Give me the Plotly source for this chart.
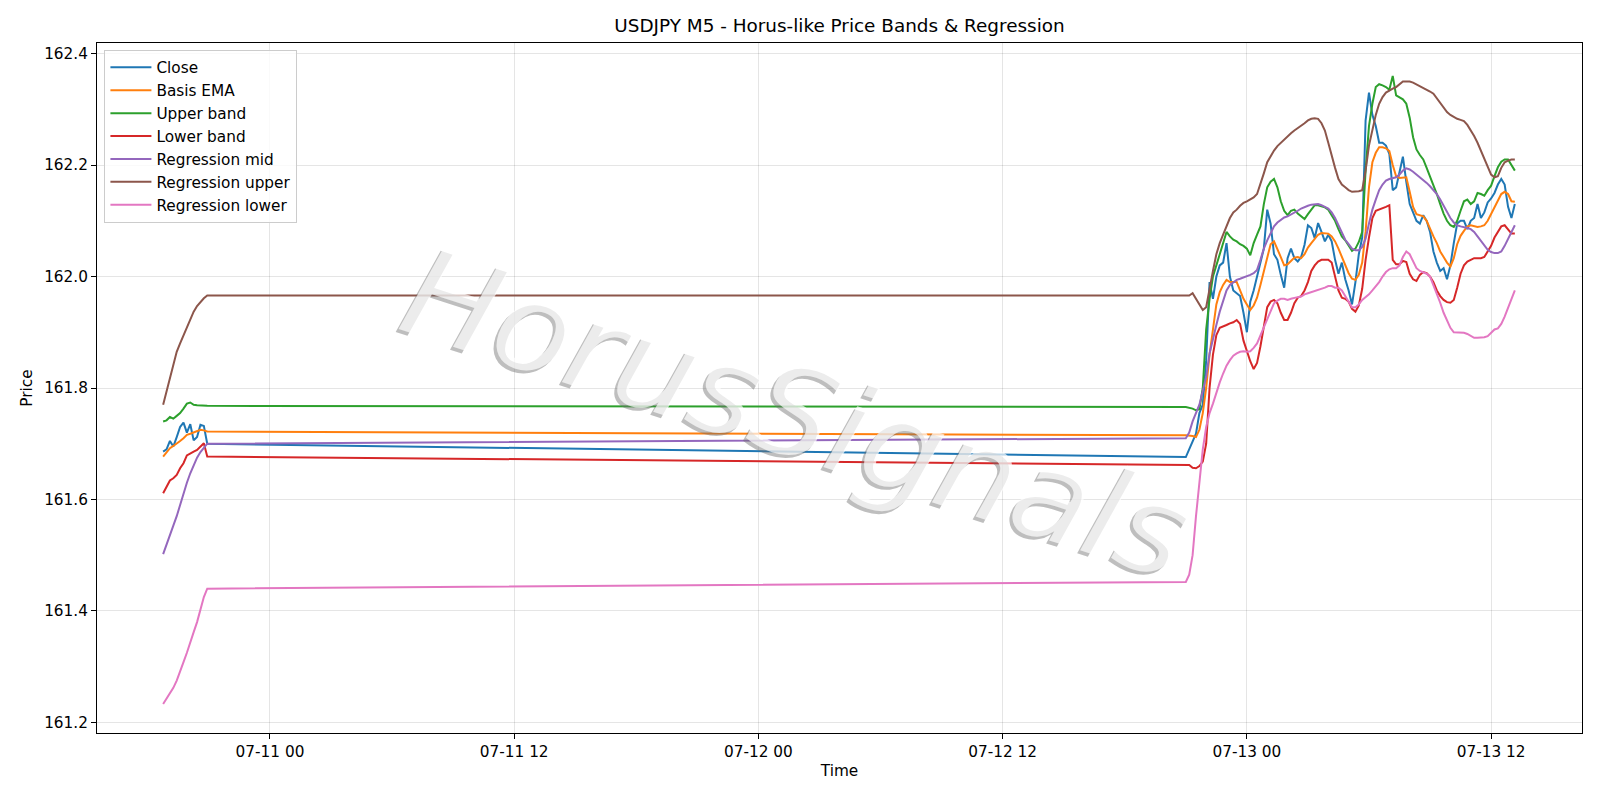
import pandas as pd
import plotly.graph_objects as go

# ---------------- data ----------------
# segment 1: 2025-07-10 18:45 .. 20:55 (10-min samples); segment 2: 2025-07-12 21:00 .. 2025-07-13 13:10
seg1_times = pd.date_range("2025-07-10 18:45", periods=14, freq="10min")
seg2_times = pd.date_range("2025-07-12 21:00", periods=98, freq="10min")
times = list(seg1_times) + list(seg2_times)

close_s1 = [161.686, 161.690, 161.705, 161.695, 161.712, 161.730, 161.738, 161.720, 161.735, 161.706, 161.712, 161.734, 161.732, 161.700]
close_s2 = [
    161.676, 161.690, 161.705, 161.718, 161.755, 161.770,
    161.850, 161.990, 161.960, 162.000, 162.020, 162.025,
    162.060, 162.000, 161.975, 161.970, 161.965, 161.935,
    161.900, 161.955, 161.975, 162.000, 162.025, 162.050,
    162.120, 162.095, 162.040, 162.030, 162.003, 161.980,
    162.033, 162.050, 162.033, 162.027, 162.035, 162.057,
    162.092, 162.087, 162.069, 162.096, 162.080, 162.063,
    162.075, 162.063, 162.030, 162.005, 162.025, 161.995,
    161.975, 161.950, 161.990, 162.040, 162.070, 162.280,
    162.330, 162.290, 162.270, 162.240, 162.240, 162.235,
    162.220, 162.155, 162.160, 162.190, 162.215, 162.170,
    162.130, 162.115, 162.100, 162.095, 162.110, 162.100,
    162.080, 162.045, 162.025, 162.010, 162.015, 161.995,
    162.020, 162.060, 162.095, 162.100, 162.100, 162.085,
    162.100, 162.105, 162.130, 162.105, 162.115, 162.133,
    162.140, 162.150, 162.165, 162.175, 162.165, 162.125,
    162.105, 162.130]

basis_s1 = [161.677, 161.685, 161.692, 161.696, 161.700, 161.705, 161.710, 161.716, 161.718, 161.720, 161.722, 161.725, 161.724, 161.722]
basis_s2 = [
    161.715, 161.715, 161.714, 161.712, 161.725, 161.755,
    161.800, 161.860, 161.910, 161.950, 161.972, 161.985,
    161.994, 161.990, 161.990, 161.990, 161.975, 161.960,
    161.950, 161.940, 161.948, 161.962, 161.985, 162.010,
    162.035, 162.058, 162.063, 162.050, 162.035, 162.020,
    162.022, 162.028, 162.034, 162.035, 162.033, 162.040,
    162.052, 162.060, 162.068, 162.075, 162.078, 162.078,
    162.077, 162.072, 162.063, 162.050, 162.035, 162.020,
    162.006, 161.996, 161.994, 162.003, 162.025, 162.080,
    162.160, 162.205, 162.222, 162.232, 162.232, 162.230,
    162.225, 162.200, 162.180, 162.177, 162.178, 162.178,
    162.152, 162.125, 162.112, 162.110, 162.108, 162.100,
    162.085, 162.072, 162.060, 162.045, 162.035, 162.025,
    162.018, 162.033, 162.058, 162.073, 162.082, 162.090,
    162.092, 162.090, 162.089, 162.090, 162.092, 162.100,
    162.112, 162.126, 162.138, 162.148, 162.152, 162.148,
    162.135, 162.134]

upper_s1 = [161.740, 161.742, 161.748, 161.745, 161.750, 161.755, 161.763, 161.772, 161.774, 161.770, 161.769, 161.769, 161.768, 161.768]
upper_s2 = [
    161.766, 161.765, 161.763, 161.760, 161.762, 161.800,
    161.905, 161.960, 162.000, 162.020, 162.040, 162.060,
    162.080, 162.072, 162.066, 162.063, 162.058, 162.055,
    162.050, 162.038, 162.060, 162.075, 162.090, 162.130,
    162.160, 162.170, 162.175, 162.160, 162.135, 162.118,
    162.110, 162.118, 162.120, 162.113, 162.108, 162.103,
    162.112, 162.120, 162.128, 162.128, 162.126, 162.124,
    162.120, 162.110, 162.100, 162.085, 162.072, 162.065,
    162.055, 162.046, 162.050, 162.062, 162.080, 162.190,
    162.270, 162.310, 162.340, 162.345, 162.343, 162.340,
    162.335, 162.360, 162.325, 162.322, 162.318, 162.310,
    162.285, 162.250, 162.228, 162.218, 162.210, 162.195,
    162.180, 162.165, 162.148, 162.130, 162.113, 162.100,
    162.092, 162.089, 162.100, 162.118, 162.135, 162.138,
    162.130, 162.135, 162.150, 162.148, 162.145, 162.155,
    162.163, 162.180, 162.196, 162.206, 162.210, 162.210,
    162.200, 162.190]

lower_s1 = [161.611, 161.623, 161.634, 161.638, 161.644, 161.656, 161.665, 161.679, 161.683, 161.686, 161.689, 161.695, 161.701, 161.677]
lower_s2 = [
    161.663, 161.662, 161.657, 161.656, 161.660, 161.668,
    161.700, 161.800, 161.860, 161.895, 161.908, 161.910,
    161.913, 161.916, 161.918, 161.922, 161.915, 161.885,
    161.865, 161.848, 161.834, 161.845, 161.875, 161.910,
    161.945, 161.955, 161.958, 161.952, 161.935, 161.922,
    161.922, 161.935, 161.952, 161.962, 161.965, 161.975,
    161.990, 162.010, 162.020, 162.027, 162.030, 162.030,
    162.030, 162.025, 162.000, 161.975, 161.962, 161.960,
    161.955, 161.942, 161.937, 161.948, 161.978, 162.030,
    162.070, 162.105, 162.118, 162.120, 162.122, 162.125,
    162.128, 162.030, 162.022, 162.022, 162.028, 162.026,
    162.005, 161.995, 161.992, 162.003, 162.008, 162.006,
    162.000, 161.990, 161.975, 161.965, 161.958, 161.954,
    161.953, 161.958, 161.980, 162.005, 162.020, 162.027,
    162.030, 162.033, 162.033, 162.033, 162.035, 162.045,
    162.055, 162.070, 162.080, 162.090, 162.092, 162.085,
    162.077, 162.077]

reg_mid_s1 = [161.502, 161.518, 161.535, 161.553, 161.570, 161.590, 161.612, 161.630, 161.647, 161.662, 161.675, 161.685, 161.693, 161.700]
reg_mid_s2 = [
    161.710, 161.720, 161.740, 161.755, 161.770, 161.795,
    161.820, 161.862, 161.890, 161.913, 161.937, 161.958,
    161.975, 161.985, 161.990, 161.994, 161.996, 161.998,
    162.000, 162.003, 162.006, 162.012, 162.030, 162.050,
    162.065, 162.078, 162.090, 162.097, 162.102, 162.106,
    162.108, 162.111, 162.115, 162.118, 162.122, 162.125,
    162.127, 162.129, 162.130, 162.130, 162.128, 162.125,
    162.122, 162.115, 162.105, 162.092, 162.078, 162.066,
    162.058, 162.050, 162.047, 162.047, 162.053, 162.068,
    162.095, 162.120, 162.138, 162.155, 162.165, 162.172,
    162.175, 162.176, 162.178, 162.183, 162.190, 162.194,
    162.192, 162.188, 162.183, 162.179, 162.174, 162.168,
    162.162, 162.155, 162.148, 162.138, 162.126, 162.115,
    162.105, 162.097, 162.092, 162.090, 162.089, 162.087,
    162.085, 162.080, 162.072, 162.064, 162.056, 162.048,
    162.044, 162.042, 162.042, 162.045, 162.055, 162.068,
    162.080, 162.092]

reg_upper_s1 = [161.770, 161.795, 161.820, 161.845, 161.865, 161.880, 161.895, 161.910, 161.925, 161.937, 161.947, 161.955, 161.961, 161.966]
reg_upper_s2 = [
    161.966, 161.966, 161.970, 161.960, 161.952, 161.940,
    161.945, 161.980, 162.010, 162.040, 162.060, 162.075,
    162.090, 162.105, 162.115, 162.120, 162.127, 162.132,
    162.135, 162.138, 162.142, 162.148, 162.165, 162.185,
    162.205, 162.216, 162.226, 162.234, 162.240, 162.246,
    162.252, 162.257, 162.262, 162.266, 162.270, 162.275,
    162.280, 162.283, 162.284, 162.283, 162.275, 162.262,
    162.240, 162.215, 162.195, 162.175, 162.165, 162.160,
    162.155, 162.152, 162.152, 162.153, 162.155, 162.190,
    162.235, 162.265, 162.290, 162.310, 162.322, 162.330,
    162.334, 162.337, 162.340, 162.345, 162.350, 162.350,
    162.350, 162.348, 162.345, 162.342, 162.338, 162.335,
    162.332, 162.328, 162.320, 162.310, 162.302, 162.295,
    162.290, 162.286, 162.283, 162.281, 162.279, 162.272,
    162.263, 162.252, 162.240, 162.225, 162.210, 162.195,
    162.183, 162.178, 162.180, 162.195, 162.205, 162.208,
    162.210, 162.210]

reg_lower_s1 = [161.233, 161.242, 161.252, 161.262, 161.275, 161.290, 161.308, 161.325, 161.345, 161.362, 161.380, 161.405, 161.425, 161.440]
reg_lower_s2 = [
    161.452, 161.465, 161.500, 161.570, 161.635, 161.690,
    161.730, 161.755, 161.772, 161.792, 161.810, 161.826,
    161.840, 161.850, 161.858, 161.862, 161.865, 161.866,
    161.865, 161.866, 161.872, 161.880, 161.895, 161.910,
    161.925, 161.940, 161.952, 161.957, 161.960, 161.960,
    161.958, 161.960, 161.962, 161.963, 161.964, 161.968,
    161.970, 161.972, 161.974, 161.975, 161.978, 161.980,
    161.983, 161.983, 161.980, 161.980, 161.975, 161.965,
    161.955, 161.945, 161.945, 161.950, 161.958, 161.963,
    161.968, 161.975, 161.982, 161.990, 162.000, 162.008,
    162.013, 162.015, 162.015, 162.020, 162.035, 162.045,
    162.040, 162.028, 162.015, 162.010, 162.008, 162.005,
    162.000, 161.985, 161.970, 161.953, 161.935, 161.920,
    161.908, 161.900, 161.900, 161.900, 161.899, 161.897,
    161.893, 161.890, 161.890, 161.890, 161.891, 161.893,
    161.900, 161.905, 161.907, 161.915, 161.928, 161.945,
    161.958, 161.975]

series_names = ["Close", "Basis EMA", "Upper band", "Lower band",
                "Regression mid", "Regression upper", "Regression lower"]
series_values = [close_s1 + close_s2, basis_s1 + basis_s2, upper_s1 + upper_s2,
                 lower_s1 + lower_s2, reg_mid_s1 + reg_mid_s2,
                 reg_upper_s1 + reg_upper_s2, reg_lower_s1 + reg_lower_s2]
colors = ["#1f77b4", "#ff7f0e", "#2ca02c", "#d62728", "#9467bd", "#8c564b", "#e377c2"]

y_ticks = [161.2, 161.4, 161.6, 161.8, 162.0, 162.2, 162.4]
x_ticks = ["2025-07-11 00:00", "2025-07-11 12:00", "2025-07-12 00:00",
           "2025-07-12 12:00", "2025-07-13 00:00", "2025-07-13 12:00"]
x_tick_labels = ["07-11 00", "07-11 12", "07-12 00", "07-12 12", "07-13 00", "07-13 12"]

# ---------------- figure ----------------
FONT = "DejaVu Sans"
FS = 15.3
fig = go.Figure()
for name, vals, col in zip(series_names, series_values, colors):
    assert len(vals) == len(times), name
    fig.add_trace(go.Scatter(x=times, y=vals, mode="lines", name=name,
                             line=dict(color=col, width=2)))

# watermark (shadow + light fill)
for dx, dy, col in [(-3, -3, "rgba(110,110,110,0.45)"), (0, 0, "rgba(255,255,255,0.70)")]:
    fig.add_annotation(text="HorusSignals", xref="paper", yref="paper",
                       x=0.471, y=0.464, showarrow=False, textangle=18,
                       xshift=dx, yshift=dy,
                       font=dict(family=FONT, size=125, color=col, style="italic"))

fig.update_layout(
    width=1600, height=800,
    paper_bgcolor="white", plot_bgcolor="white",
    margin=dict(l=97, r=18, t=43, b=67, autoexpand=False),
    font=dict(family=FONT, size=FS, color="black"),
    title=dict(text="USDJPY M5 - Horus-like Price Bands & Regression",
               x=0.5, xref="paper", xanchor="center",
               y=1 - 26 / 800, yref="container", yanchor="middle",
               font=dict(family=FONT, size=18.4, color="black")),
    showlegend=True,
    legend=dict(x=0.005, y=0.99, xanchor="left", yanchor="top",
                bgcolor="rgba(255,255,255,0.8)", bordercolor="#cccccc", borderwidth=1,
                font=dict(family=FONT, size=FS, color="black"),
                tracegroupgap=0, itemwidth=41),
)
fig.update_xaxes(
    range=["2025-07-10 15:30", "2025-07-13 16:28"],
    tickvals=x_ticks, ticktext=x_tick_labels, automargin=False,
    showgrid=True, gridcolor="rgba(0,0,0,0.10)", gridwidth=1,
    showline=True, linecolor="black", linewidth=1, mirror=True,
    ticks="outside", ticklen=5, tickcolor="black", zeroline=False,
    title=dict(text="Time", font=dict(family=FONT, size=FS), standoff=4),
)
fig.update_yaxes(
    range=[161.181, 162.419],
    tickvals=y_ticks, ticktext=[f"{v:.1f}" for v in y_ticks], automargin=False,
    showgrid=True, gridcolor="rgba(0,0,0,0.10)", gridwidth=1,
    showline=True, linecolor="black", linewidth=1, mirror=True,
    ticks="outside", ticklen=5, tickcolor="black", zeroline=False,
    title=dict(text="Price", font=dict(family=FONT, size=FS), standoff=7),
)

fig.write_html("out.html", config={"displayModeBar": False},
               post_script="document.body.style.margin='0px';")
